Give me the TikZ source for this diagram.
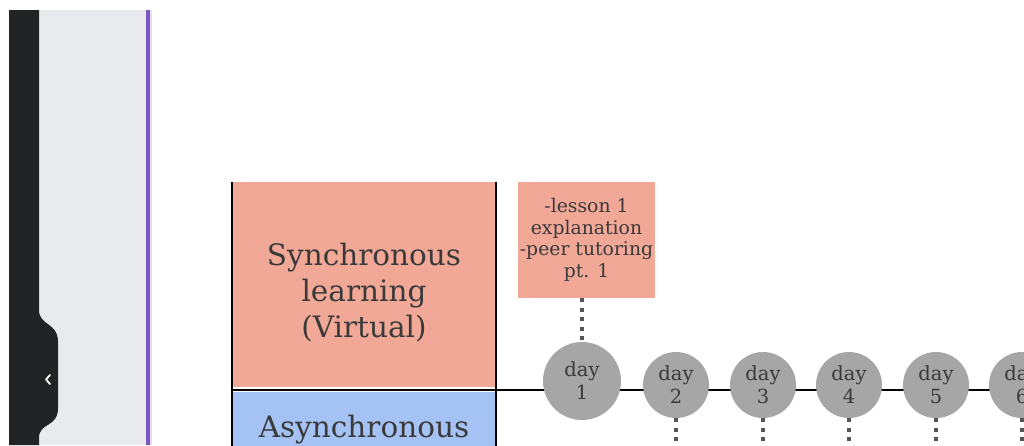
\documentclass[tikz,border=0pt]{standalone}
\usepackage{fontspec}
\setmainfont{DejaVu Serif}
\definecolor{ink}{HTML}{3A3A3A}
\definecolor{salmon}{HTML}{F1A896}
\definecolor{skyblue}{HTML}{A4C2F4}
\definecolor{dayfill}{HTML}{A6A6A6}
\definecolor{dotgrey}{HTML}{555555}
\definecolor{barblack}{HTML}{222325}
\definecolor{panelgrey}{HTML}{E9EAEE}
\definecolor{edgepurple}{HTML}{7E57C2}
\definecolor{edgelilac}{HTML}{E6DAF7}
\begin{document}
\begin{tikzpicture}[
            x=1pt, y=-1pt,
            every node/.style={text=ink, inner sep=0pt, align=center},
            band/.style={rectangle, fill=#1, minimum width=263pt},
            big/.style={font=\fontsize{29.5}{36}\selectfont},
            small/.style={font=\fontsize{18.8}{21.5}\selectfont},
            day/.style={circle, fill=dayfill, minimum size=#1, font=\fontsize{19.5}{23}\selectfont},
            rule/.style={line width=2.2pt, black},
            dots/.style={line width=4pt, draw=dotgrey, dash pattern=on 4pt off 5.5pt}
        ]
            \useasboundingbox (0,0) rectangle (1024,445);
            % side panel of the editor
            \fill[panelgrey] (39,10) rectangle (146,445);
            \fill[barblack] (9,10) -- (39,10) -- (39,310)
                .. controls (39,326) and (58,322) .. (58,342) -- (58,408)
                .. controls (58,428) and (39,422) .. (39,438) -- (39,445) -- (9,445) -- cycle;
            \draw[white, line width=1.8pt, line cap=round, line join=round]
                (50,375) -- (46,379.5) -- (50,384);
            \fill[edgepurple] (146,10) rectangle (149.5,445);
            \fill[edgelilac] (149.5,10) rectangle (152,445);
            % row labels
            \node[band=salmon, minimum height=205pt] (sync) at (364,284.5) {};
            \node[big] (synctext) at ([yshift=-8pt]sync.center) {Synchronous\\learning\\(Virtual)};
            \node[band=skyblue, minimum height=76pt, big] (async) at (364,430)
                {Asynchronous};
            \draw[rule] (sync.north west) -- (async.south west);
            \draw[rule] (sync.north east) -- (async.south east);
            \coordinate (tl) at (232,390);
            \coordinate (tr) at (1040,390);
            \draw[rule] (tl) -- (tr);
            % timeline
            \node[rectangle, fill=salmon, minimum width=137pt, minimum height=116pt, small] (les) at (586.5,240)
                {-lesson 1\\explanation\\-peer tutoring\\pt. 1};
            \node[day=78pt] (day1) at (582,381) {day\\1};
            \draw[dots] (les.south -| day1) -- (day1.north);
            \foreach \n/\x in {2/676,3/763,4/849,5/936,6/1022} {
                \node[day=66pt] (day\n) at (\x,385) {day\\\n};
                \coordinate (end\n) at (\x,450);
                \draw[dots] (day\n.south) -- (end\n);
            }
        \end{tikzpicture}
\end{document}
